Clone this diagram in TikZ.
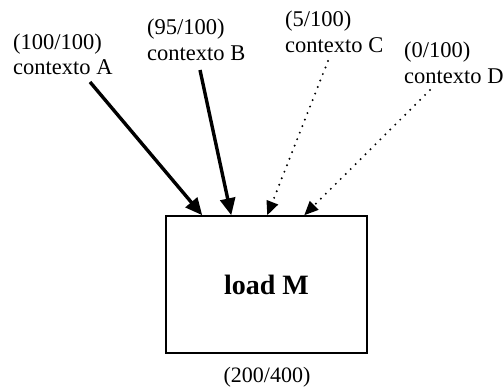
\documentclass[tikz,border=0pt]{standalone}
\usepackage{fontspec}
\setmainfont{Liberation Serif}
\usetikzlibrary{arrows.meta}
\begin{document}
\begin{tikzpicture}[x=1pt,y=-1pt,
  lbl/.style={anchor=base west,inner sep=0pt,font=\fontsize{22.5}{25}\selectfont,align=left},
  strong/.style={line width=3.4pt,-{Triangle[length=17pt,width=15pt]}},
  weak/.style={line width=2.2pt,line cap=round,dash pattern=on 0pt off 7pt,-{Triangle[length=14pt,width=12pt]}},
  boxstyle/.style={draw,line width=1.5pt,minimum width=201pt,minimum height=137pt,inner sep=0pt}]
\useasboundingbox (0,0) rectangle (504,390);
% labels of the four contexts
\node[lbl] (la1) at (13,50) {(100/100)};
\node[lbl] (la2) at (13,75) {contexto A};
\node[lbl] (lb1) at (147,35) {(95/100)};
\node[lbl] (lb2) at (147,61) {contexto B};
\node[lbl] (lc1) at (285,27) {(5/100)};
\node[lbl] (lc2) at (285,53) {contexto C};
\node[lbl] (ld1) at (404,58) {(0/100)};
\node[lbl] (ld2) at (404,84) {contexto D};
% the load instruction
\node[boxstyle] (box) at (266.5,284.5) {\fontsize{28}{30}\selectfont\bfseries load M};
\node[anchor=base,inner sep=0pt,font=\fontsize{22}{25}\selectfont] (cnt) at (267,383) {(200/400)};
% start points of the connectors
\coordinate (sa) at (90,82);
\coordinate (sb) at (200,70);
\coordinate (sc) at (328,61);
\coordinate (sd) at (430,90);
\draw[strong] (sa) -- ([xshift=37pt]box.north west);
\draw[strong] (sb) -- ([xshift=66pt]box.north west);
\draw[weak] (sc) -- ([xshift=102pt]box.north west);
\draw[weak] (sd) -- ([xshift=139pt]box.north west);
\end{tikzpicture}
\end{document}
